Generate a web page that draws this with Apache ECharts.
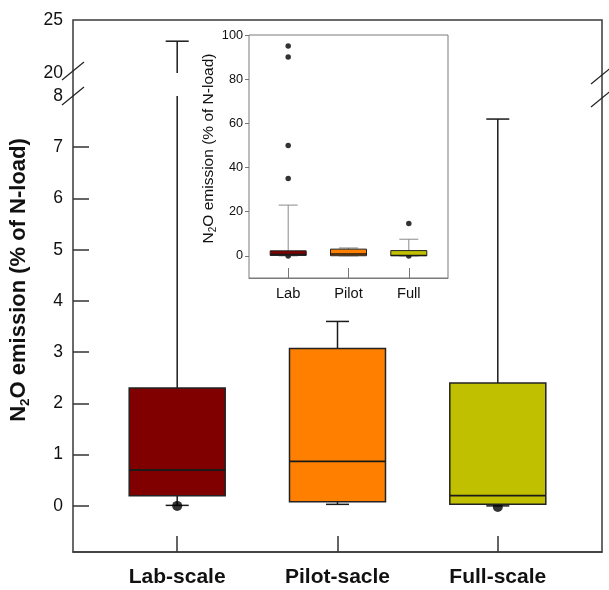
<!DOCTYPE html>
<html>
<head>
<meta charset="utf-8">
<script src="https://cdn.jsdelivr.net/npm/echarts@6/dist/echarts.min.js"></script>
<style>
  html, body { margin: 0; padding: 0; background: #fff; }
  #chart { width: 609px; height: 590px; }
</style>
</head>
<body>
<div id="chart"></div>
<script>
// box plot summary, one entry per scale
const categories = ['Lab-scale', 'Pilot-sacle', 'Full-scale'];
const insetCategories = ['Lab', 'Pilot', 'Full'];
const whiskerLow = [0.01, 0.03, 0.0];
const q1 = [0.2, 0.08, 0.03];
const median = [0.7, 0.87, 0.2];
const q3 = [2.3, 3.07, 2.4];
const whiskerHigh = [23, 3.6, 7.55];

// outliers: group index + value
const outlierGroup = [0, 0, 0, 0, 0, 2, 2];
const outlierValue = [0, 35, 50, 90, 95, -0.02, 14.7];

// tick labels
const lowerTicks = [0, 1, 2, 3, 4, 5, 6, 7];
const lowerLabels = [0, 1, 2, 3, 4, 5, 6, 7, 8];
const upperLabels = [20, 25];
const insetTicks = [0, 20, 40, 60, 80, 100];
const catTicks = [1, 2, 3];

const boxColors = ['#800000', '#ff8000', '#c0c000'];
const FONT = "'Liberation Sans', Arial, sans-serif";

const boxData = categories.map((c, i) => [i + 1, whiskerLow[i], q1[i], median[i], q3[i], whiskerHigh[i]]);
const outlierData = outlierGroup.map((g, k) => [g + 1, outlierValue[k]]);

function whiskerItem(capW, color, lw) {
  return function (params, api) {
    const x = api.value(0);
    const lo = api.coord([x, api.value(1)]);
    const b = api.coord([x, api.value(2)]);
    const t = api.coord([x, api.value(4)]);
    const hi = api.coord([x, api.value(5)]);
    const st = { stroke: color, lineWidth: lw };
    return {
      type: 'group',
      children: [
        { type: 'line', shape: { x1: hi[0], y1: t[1], x2: hi[0], y2: hi[1] }, style: st },
        { type: 'line', shape: { x1: hi[0] - capW / 2, y1: hi[1], x2: hi[0] + capW / 2, y2: hi[1] }, style: st },
        { type: 'line', shape: { x1: lo[0], y1: b[1], x2: lo[0], y2: lo[1] }, style: st },
        { type: 'line', shape: { x1: lo[0] - capW / 2, y1: lo[1], x2: lo[0] + capW / 2, y2: lo[1] }, style: st }
      ]
    };
  };
}

function boxItem(boxW, lw) {
  return function (params, api) {
    const i = params.dataIndex;
    const x = api.value(0);
    const b = api.coord([x, api.value(2)]);
    const m = api.coord([x, api.value(3)]);
    const t = api.coord([x, api.value(4)]);
    return {
      type: 'group',
      children: [
        { type: 'rect', shape: { x: t[0] - boxW / 2, y: t[1], width: boxW, height: b[1] - t[1] },
          style: { fill: boxColors[i], stroke: '#222', lineWidth: lw } },
        { type: 'line', shape: { x1: m[0] - boxW / 2, y1: m[1], x2: m[0] + boxW / 2, y2: m[1] },
          style: { stroke: '#1a1a1a', lineWidth: lw + 0.3 } }
      ]
    };
  };
}

const tickStyle = { color: '#333', width: 1.5 };

const option = {
  animation: false,
  backgroundColor: '#fff',
  textStyle: { fontFamily: FONT },
  grid: [
    // 0: outer frame
    { left: 73, top: 20, width: 529, height: 532, outerBoundsMode: 'none', show: true, borderColor: '#3a3a3a', borderWidth: 1.5 },
    // 1: lower part 0..8
    { left: 73, top: 96, width: 529, height: 456, outerBoundsMode: 'none' },
    // 2: upper part 20..25
    { left: 73, top: 20, width: 529, height: 53, outerBoundsMode: 'none' },
    // 3: inset
    { left: 249, top: 35, width: 199, height: 243, outerBoundsMode: 'none', show: true, backgroundColor: '#fff', borderColor: '#7a7a7a', borderWidth: 1 }
  ],
  xAxis: [
    { gridIndex: 0, type: 'value', min: 0, max: 1, show: false },
    { gridIndex: 1, type: 'value', min: 0.35, max: 3.65, position: 'bottom',
      axisLine: { show: true, onZero: false, lineStyle: { color: '#3a3a3a', width: 1.5 } },
      splitLine: { show: false },
      axisTick: { show: true, customValues: catTicks, inside: true, length: 16, lineStyle: tickStyle },
      axisLabel: { customValues: catTicks, formatter: v => categories[v - 1], margin: 15,
        fontSize: 21, fontWeight: 'bold', color: '#111', fontFamily: FONT } },
    { gridIndex: 2, type: 'value', min: 0.35, max: 3.65, show: false },
    { gridIndex: 3, type: 'value', min: 0.35, max: 3.65, position: 'bottom',
      axisLine: { show: true, onZero: false, lineStyle: { color: '#7a7a7a', width: 1 } },
      splitLine: { show: false },
      axisTick: { show: true, customValues: catTicks, inside: true, length: 10, lineStyle: { color: '#777', width: 1 } },
      axisLabel: { customValues: catTicks, formatter: v => insetCategories[v - 1], margin: 8,
        fontSize: 14.7, color: '#111', fontFamily: FONT } }
  ],
  yAxis: [
    { gridIndex: 0, type: 'value', min: 0, max: 1,
      axisLine: { show: false }, axisTick: { show: false }, axisLabel: { show: false }, splitLine: { show: false },
      name: 'N{s|2}O emission (% of N-load)', nameLocation: 'middle', nameGap: 41,
      nameTextStyle: { fontSize: 22, fontWeight: 'bold', color: '#111', fontFamily: FONT, padding: [0, 0, 0, 12],
        rich: { s: { fontSize: 13.5, fontWeight: 'bold', color: '#111', fontFamily: FONT, padding: [13, 0, 0, 0] } } } },
    { gridIndex: 1, type: 'value', min: -0.9, max: 8,
      axisLine: { show: false, onZero: false }, splitLine: { show: false },
      axisTick: { show: true, customValues: lowerTicks, inside: true, length: 16, lineStyle: tickStyle },
      axisLabel: { customValues: lowerLabels, margin: 10, fontSize: 17.5, color: '#111', fontFamily: FONT } },
    { gridIndex: 2, type: 'value', min: 20, max: 25,
      axisLine: { show: false, onZero: false }, splitLine: { show: false }, axisTick: { show: false },
      axisLabel: { customValues: upperLabels, margin: 10, fontSize: 17.5, color: '#111', fontFamily: FONT } },
    { gridIndex: 3, type: 'value', min: -10, max: 100,
      axisLine: { show: false, onZero: false }, splitLine: { show: false },
      axisTick: { show: true, customValues: insetTicks, length: 4, lineStyle: { color: '#777', width: 1 } },
      axisLabel: { customValues: insetTicks, margin: 6, fontSize: 12.7, color: '#111', fontFamily: FONT },
      name: 'N{s|2}O emission (% of N-load)', nameLocation: 'middle', nameGap: 23,
      nameTextStyle: { fontSize: 15.5, color: '#111', fontFamily: FONT, padding: [0, 0, 0, 16],
        rich: { s: { fontSize: 10, color: '#111', fontFamily: FONT, padding: [9, 0, 0, 0] } } } }
  ],
  series: [
    // lower main
    { type: 'custom', xAxisIndex: 1, yAxisIndex: 1, clip: true, z: 2, data: boxData,
      encode: { x: 0, y: [1, 2, 3, 4, 5] }, renderItem: whiskerItem(23, '#1a1a1a', 1.5) },
    { type: 'scatter', xAxisIndex: 1, yAxisIndex: 1, clip: true, z: 3, data: outlierData,
      symbol: 'circle', symbolSize: 10, itemStyle: { color: '#000' } },
    { type: 'custom', xAxisIndex: 1, yAxisIndex: 1, clip: true, z: 4, data: boxData,
      encode: { x: 0, y: [1, 2, 3, 4, 5] }, renderItem: boxItem(96, 1.5) },
    // upper main
    { type: 'custom', xAxisIndex: 2, yAxisIndex: 2, clip: true, z: 2, data: boxData,
      encode: { x: 0, y: [1, 2, 3, 4, 5] }, renderItem: whiskerItem(23, '#1a1a1a', 1.5) },
    // inset
    { type: 'custom', xAxisIndex: 3, yAxisIndex: 3, clip: true, z: 5, data: boxData,
      encode: { x: 0, y: [1, 2, 3, 4, 5] }, renderItem: whiskerItem(19, '#8a8a8a', 1) },
    { type: 'scatter', xAxisIndex: 3, yAxisIndex: 3, clip: true, z: 6, data: outlierData,
      symbol: 'circle', symbolSize: 5.5, itemStyle: { color: '#000' } },
    { type: 'custom', xAxisIndex: 3, yAxisIndex: 3, clip: true, z: 7, data: boxData,
      encode: { x: 0, y: [1, 2, 3, 4, 5] }, renderItem: boxItem(36, 1) }
  ]
};

const chart = echarts.init(document.getElementById('chart'), null, { renderer: 'canvas' });
chart.setOption(option);

// break marks on both frame sides, placed at the 20 and 8 ticks
const yUpper = chart.convertToPixel({ yAxisIndex: 2 }, 20);
const yLower = chart.convertToPixel({ yAxisIndex: 1 }, 8);
const xLeft = chart.convertToPixel({ xAxisIndex: 1 }, 0.35);
const xRight = chart.convertToPixel({ xAxisIndex: 1 }, 3.65);
const markStyle = { stroke: '#222', lineWidth: 1.2 };
function mark(cx, cy) {
  return { type: 'line', z: 100, shape: { x1: cx - 11, y1: cy + 9, x2: cx + 11, y2: cy - 9 }, style: markStyle };
}
chart.setOption({
  graphic: [
    mark(xLeft, yUpper - 2), mark(xLeft, yLower),
    mark(xRight, yUpper + 2), mark(xRight, yLower + 2)
  ]
});
</script>
</body>
</html>
